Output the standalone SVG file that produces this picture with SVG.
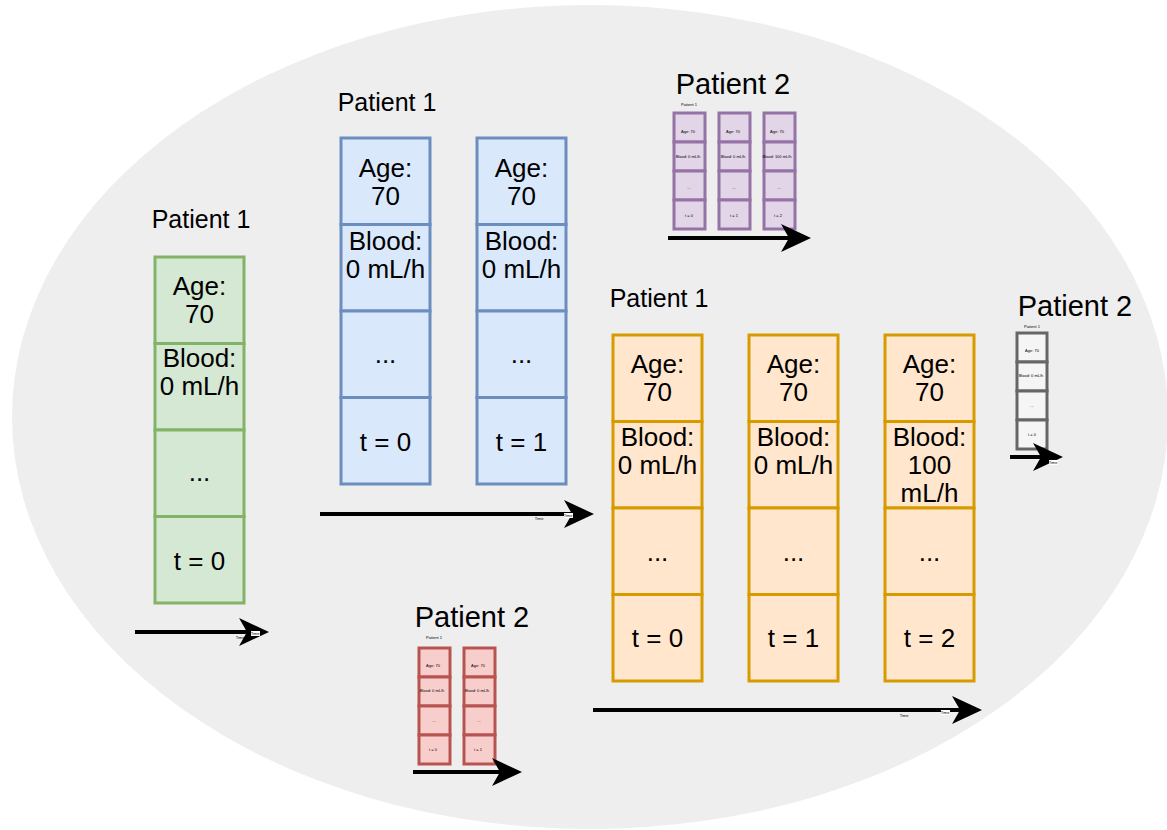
<svg xmlns="http://www.w3.org/2000/svg" width="1167" height="830" viewBox="0 0 1167 830">
  <style>
    text { font-family: "Liberation Sans", Arial, Helvetica, sans-serif; fill: #000; text-anchor: middle; }
    .big { font-size: 26px; }
    .lbl { font-size: 25px; }
    .lbl2 { font-size: 29px; }
    .tiny { font-size: 4px; }
    .g { fill: #d5e8d4; stroke: #82b366; stroke-width: 3; }
    .b { fill: #dae8fc; stroke: #6c8ebf; stroke-width: 3; }
    .o { fill: #ffe6cc; stroke: #d79b00; stroke-width: 3; }
    .p { fill: #e1d5e7; stroke: #9673a6; stroke-width: 3; }
    .k { fill: #f5f5f5; stroke: #666666; stroke-width: 3; }
    .r { fill: #f8cecc; stroke: #b85450; stroke-width: 3; }
    .axis { fill: none; stroke: #000; stroke-width: 4; marker-end: url(#head); }
  </style>
  <defs>
    <marker id="head" markerUnits="userSpaceOnUse" markerWidth="30" markerHeight="28" viewBox="0 0 30 28" refX="8" refY="14" orient="auto">
      <path d="M0,0 L30,14 L0,28 L8,14 Z" fill="#000"/>
    </marker>
  </defs>

  <rect width="1167" height="830" fill="#ffffff"/>
  <ellipse id="population" cx="590" cy="417" rx="578" ry="412" fill="#eeeeee"/>

  <!-- single snapshot, patient 1 -->
  <g id="green-p1">
    <text class="lbl" x="201" y="228">Patient 1</text>
    <rect class="g" x="155" y="257" width="89" height="86.5"/>
    <rect class="g" x="155" y="343.5" width="89" height="86.5"/>
    <rect class="g" x="155" y="430" width="89" height="86.5"/>
    <rect class="g" x="155" y="516.5" width="89" height="86.5"/>
    <text class="big" x="199.5" y="295">Age:</text>
    <text class="big" x="199.5" y="323">70</text>
    <text class="big" x="199.5" y="367">Blood:</text>
    <text class="big" x="199.5" y="395">0 mL/h</text>
    <text class="big" x="199.5" y="481">...</text>
    <text class="big" x="199.5" y="570">t = 0</text>
  </g>

  <!-- two time steps, patient 1 -->
  <g id="blue-p1">
    <text class="lbl" x="387" y="111">Patient 1</text>
    <rect class="b" x="341" y="138" width="89" height="86.5"/>
    <rect class="b" x="341" y="224.5" width="89" height="86.5"/>
    <rect class="b" x="341" y="311" width="89" height="86.5"/>
    <rect class="b" x="341" y="397.5" width="89" height="86.5"/>
    <rect class="b" x="477" y="138" width="89" height="86.5"/>
    <rect class="b" x="477" y="224.5" width="89" height="86.5"/>
    <rect class="b" x="477" y="311" width="89" height="86.5"/>
    <rect class="b" x="477" y="397.5" width="89" height="86.5"/>
    <text class="big" x="385.5" y="177">Age:</text>
    <text class="big" x="385.5" y="205">70</text>
    <text class="big" x="385.5" y="250">Blood:</text>
    <text class="big" x="385.5" y="278">0 mL/h</text>
    <text class="big" x="385.5" y="363">...</text>
    <text class="big" x="385.5" y="451">t = 0</text>
    <text class="big" x="521.5" y="177">Age:</text>
    <text class="big" x="521.5" y="205">70</text>
    <text class="big" x="521.5" y="250">Blood:</text>
    <text class="big" x="521.5" y="278">0 mL/h</text>
    <text class="big" x="521.5" y="363">...</text>
    <text class="big" x="521.5" y="451">t = 1</text>
  </g>

  <!-- three time steps, patient 1 -->
  <g id="orange-p1">
    <text class="lbl" x="659" y="307">Patient 1</text>
    <rect class="o" x="613" y="335" width="89" height="86.5"/>
    <rect class="o" x="613" y="421.5" width="89" height="86.5"/>
    <rect class="o" x="613" y="508" width="89" height="86.5"/>
    <rect class="o" x="613" y="594.5" width="89" height="86.5"/>
    <rect class="o" x="749" y="335" width="89" height="86.5"/>
    <rect class="o" x="749" y="421.5" width="89" height="86.5"/>
    <rect class="o" x="749" y="508" width="89" height="86.5"/>
    <rect class="o" x="749" y="594.5" width="89" height="86.5"/>
    <rect class="o" x="885" y="335" width="89" height="86.5"/>
    <rect class="o" x="885" y="421.5" width="89" height="86.5"/>
    <rect class="o" x="885" y="508" width="89" height="86.5"/>
    <rect class="o" x="885" y="594.5" width="89" height="86.5"/>
    <text class="big" x="657.5" y="373">Age:</text>
    <text class="big" x="657.5" y="401">70</text>
    <text class="big" x="657.5" y="446">Blood:</text>
    <text class="big" x="657.5" y="474">0 mL/h</text>
    <text class="big" x="657.5" y="561">...</text>
    <text class="big" x="657.5" y="647">t = 0</text>
    <text class="big" x="793.5" y="373">Age:</text>
    <text class="big" x="793.5" y="401">70</text>
    <text class="big" x="793.5" y="446">Blood:</text>
    <text class="big" x="793.5" y="474">0 mL/h</text>
    <text class="big" x="793.5" y="561">...</text>
    <text class="big" x="793.5" y="647">t = 1</text>
    <text class="big" x="929.5" y="373">Age:</text>
    <text class="big" x="929.5" y="401">70</text>
    <text class="big" x="929.5" y="446">Blood:</text>
    <text class="big" x="929.5" y="474">100</text>
    <text class="big" x="929.5" y="502">mL/h</text>
    <text class="big" x="929.5" y="561">...</text>
    <text class="big" x="929.5" y="647">t = 2</text>
  </g>

  <!-- patient 2, three steps (small) -->
  <g id="purple-p2">
    <text class="lbl2" x="733" y="94">Patient 2</text>
    <text class="tiny" x="689" y="106">Patient 1</text>
    <rect class="p" x="674" y="113" width="31" height="29"/>
    <rect class="p" x="674" y="142" width="31" height="29"/>
    <rect class="p" x="674" y="171" width="31" height="29"/>
    <rect class="p" x="674" y="200" width="31" height="29"/>
    <rect class="p" x="719" y="113" width="31" height="29"/>
    <rect class="p" x="719" y="142" width="31" height="29"/>
    <rect class="p" x="719" y="171" width="31" height="29"/>
    <rect class="p" x="719" y="200" width="31" height="29"/>
    <rect class="p" x="764" y="113" width="31" height="29"/>
    <rect class="p" x="764" y="142" width="31" height="29"/>
    <rect class="p" x="764" y="171" width="31" height="29"/>
    <rect class="p" x="764" y="200" width="31" height="29"/>
    <text class="tiny" x="688" y="133">Age: 70</text>
    <text class="tiny" x="688" y="158">Blood: 0 mL/h</text>
    <text class="tiny" x="689" y="189">...</text>
    <text class="tiny" x="689" y="217">t = 0</text>
    <text class="tiny" x="733" y="133">Age: 70</text>
    <text class="tiny" x="733" y="158">Blood: 0 mL/h</text>
    <text class="tiny" x="734" y="189">...</text>
    <text class="tiny" x="734" y="217">t = 1</text>
    <text class="tiny" x="777" y="133">Age: 70</text>
    <text class="tiny" x="777" y="158">Blood: 100 mL/h</text>
    <text class="tiny" x="779" y="189">...</text>
    <text class="tiny" x="778" y="217">t = 2</text>
  </g>

  <!-- patient 2, one step (small) -->
  <g id="grey-p2">
    <text class="lbl2" x="1075" y="316">Patient 2</text>
    <text class="tiny" x="1032" y="328">Patient 1</text>
    <rect class="k" x="1017" y="333" width="30" height="29"/>
    <rect class="k" x="1017" y="362" width="30" height="29"/>
    <rect class="k" x="1017" y="391" width="30" height="29"/>
    <rect class="k" x="1017" y="420" width="30" height="29"/>
    <text class="tiny" x="1032" y="352">Age: 70</text>
    <text class="tiny" x="1031" y="377">Blood: 0 mL/h</text>
    <text class="tiny" x="1032" y="407">...</text>
    <text class="tiny" x="1032" y="436">t = 0</text>
  </g>

  <!-- patient 2, two steps (small) -->
  <g id="red-p2">
    <text class="lbl2" x="472" y="627">Patient 2</text>
    <text class="tiny" x="434" y="639">Patient 1</text>
    <rect class="r" x="419" y="648" width="31" height="29"/>
    <rect class="r" x="419" y="677" width="31" height="29"/>
    <rect class="r" x="419" y="706" width="31" height="29"/>
    <rect class="r" x="419" y="735" width="31" height="29"/>
    <rect class="r" x="464" y="648" width="31" height="29"/>
    <rect class="r" x="464" y="677" width="31" height="29"/>
    <rect class="r" x="464" y="706" width="31" height="29"/>
    <rect class="r" x="464" y="735" width="31" height="29"/>
    <text class="tiny" x="433" y="667">Age: 70</text>
    <text class="tiny" x="432" y="692">Blood: 0 mL/h</text>
    <text class="tiny" x="434" y="722">...</text>
    <text class="tiny" x="433" y="751">t = 0</text>
    <text class="tiny" x="478" y="667">Age: 70</text>
    <text class="tiny" x="477" y="692">Blood: 0 mL/h</text>
    <text class="tiny" x="479" y="722">...</text>
    <text class="tiny" x="478" y="751">t = 1</text>
  </g>

  <!-- time axes -->
  <g id="connectors">
    <path class="axis" d="M135,632 L247,632"/>
    <path class="axis" d="M320,514 L572,514"/>
    <path class="axis" d="M593,710 L960,710"/>
    <path class="axis" d="M668,238 L789,238"/>
    <path class="axis" d="M1010,457 L1041,457"/>
    <path class="axis" d="M413,772 L500,772"/>
    <text class="tiny" x="240" y="639">Time</text>
    <rect x="251" y="631" width="9" height="5" fill="#ffffff"/>
    <text class="tiny" x="255" y="635">Time</text>
    <text class="tiny" x="539" y="520">Time</text>
    <rect x="564" y="513" width="9" height="5" fill="#ffffff"/>
    <text class="tiny" x="568" y="517">Time</text>
    <text class="tiny" x="904" y="717">Time</text>
    <rect x="941" y="710" width="9" height="5" fill="#ffffff"/>
    <text class="tiny" x="945" y="714">Time</text>
    <rect x="1049" y="460" width="9" height="5" fill="#ffffff"/>
    <text class="tiny" x="1053" y="464">Time</text>
  </g>
</svg>
